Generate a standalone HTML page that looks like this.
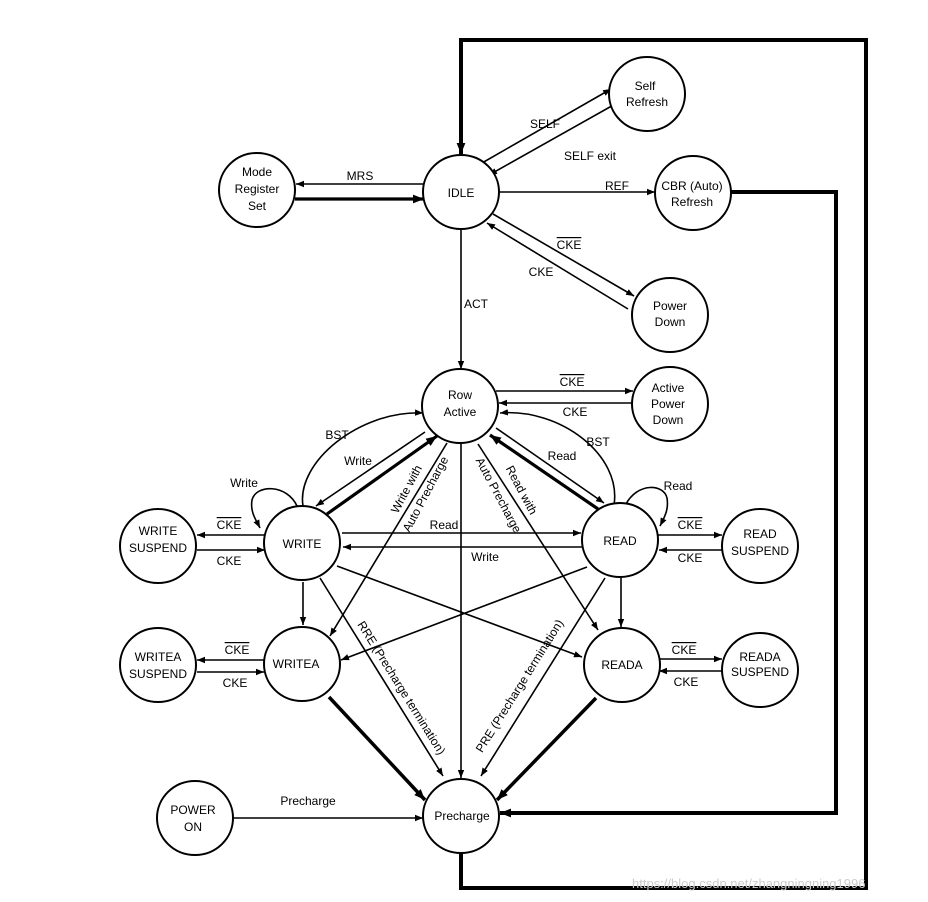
<!DOCTYPE html>
<html><head><meta charset="utf-8"><style>
html,body{margin:0;padding:0;background:#fff;}
svg{display:block;font-family:"Liberation Sans",Arial,sans-serif;font-size:12px;}
</style></head><body>
<svg width="928" height="902" viewBox="0 0 928 902" xmlns="http://www.w3.org/2000/svg">
<defs>
<marker id="a" viewBox="0 0 10 10" refX="10" refY="5" markerWidth="8" markerHeight="8" orient="auto" markerUnits="userSpaceOnUse"><path d="M0,1 L10,5 L0,9 Z" fill="#000"/></marker>
<marker id="b" viewBox="0 0 10 10" refX="10" refY="5" markerWidth="11" markerHeight="11" orient="auto" markerUnits="userSpaceOnUse"><path d="M0,1 L10,5 L0,9 Z" fill="#000"/></marker>
</defs>
<g fill="none" stroke="#000" stroke-width="1.6">
<polyline points="461,853 461,888 866,888 866,40 461,40 461,154" stroke-width="4" marker-end="url(#b)"/>
<polyline points="731,192 836,192 836,813 500,813" stroke-width="4" marker-end="url(#b)"/>
<line x1="482" y1="163" x2="611" y2="89" marker-end="url(#a)"/>
<line x1="617" y1="103" x2="489" y2="175" marker-end="url(#a)"/>
<line x1="424" y1="184" x2="296" y2="184" marker-end="url(#a)"/>
<line x1="295" y1="199" x2="424" y2="199" stroke-width="3.2" marker-end="url(#b)"/>
<line x1="499" y1="192" x2="655" y2="192" marker-end="url(#a)"/>
<line x1="493" y1="214" x2="634" y2="296" marker-end="url(#a)"/>
<line x1="628" y1="309" x2="487" y2="223" marker-end="url(#a)"/>
<line x1="461" y1="230" x2="461" y2="369" marker-end="url(#a)"/>
<line x1="496" y1="391" x2="633" y2="391" marker-end="url(#a)"/>
<line x1="633" y1="403" x2="499" y2="403" marker-end="url(#a)"/>
<line x1="425" y1="432" x2="316" y2="506" marker-end="url(#a)"/>
<line x1="327" y1="514" x2="437" y2="436" stroke-width="3.2" marker-end="url(#b)"/>
<line x1="496" y1="428" x2="604" y2="503" marker-end="url(#a)"/>
<line x1="598" y1="509" x2="490" y2="435" stroke-width="3.2" marker-end="url(#b)"/>
<path d="M303,506 C296,462 360,410 423,413" marker-end="url(#a)"/>
<path d="M614,505 C622,455 560,408 500,413" marker-end="url(#a)"/>
<path d="M297,506 C287,484 256,484 252,500 C250,512 256,520 260,528" marker-end="url(#a)"/>
<path d="M626,504 C638,482 664,484 667,498 C669,510 664,518 660,526" marker-end="url(#a)"/>
<line x1="342" y1="533" x2="581" y2="533" marker-end="url(#a)"/>
<line x1="582" y1="547" x2="343" y2="547" marker-end="url(#a)"/>
<line x1="265" y1="535" x2="197" y2="535" marker-end="url(#a)"/>
<line x1="197" y1="550" x2="265" y2="550" marker-end="url(#a)"/>
<line x1="658" y1="535" x2="722" y2="535" marker-end="url(#a)"/>
<line x1="722" y1="550" x2="659" y2="550" marker-end="url(#a)"/>
<line x1="264" y1="660" x2="197" y2="660" marker-end="url(#a)"/>
<line x1="197" y1="672" x2="264" y2="672" marker-end="url(#a)"/>
<line x1="658" y1="659" x2="722" y2="659" marker-end="url(#a)"/>
<line x1="722" y1="671" x2="659" y2="671" marker-end="url(#a)"/>
<line x1="303" y1="582" x2="303" y2="625" marker-end="url(#a)"/>
<line x1="621" y1="578" x2="621" y2="627" marker-end="url(#a)"/>
<line x1="447" y1="443" x2="330" y2="636" marker-end="url(#a)"/>
<line x1="478" y1="444" x2="598" y2="630" marker-end="url(#a)"/>
<line x1="461" y1="444" x2="461" y2="778" marker-end="url(#a)"/>
<line x1="337" y1="566" x2="582" y2="657" marker-end="url(#a)"/>
<line x1="587" y1="567" x2="341" y2="660" marker-end="url(#a)"/>
<line x1="320" y1="578" x2="443" y2="776" marker-end="url(#a)"/>
<line x1="605" y1="578" x2="481" y2="776" marker-end="url(#a)"/>
<line x1="329" y1="697" x2="425" y2="800" stroke-width="3.5" marker-end="url(#b)"/>
<line x1="596" y1="698" x2="497" y2="800" stroke-width="3.5" marker-end="url(#b)"/>
<line x1="233" y1="818" x2="423" y2="818" marker-end="url(#a)"/>
</g>
<g fill="#fff" stroke="#000" stroke-width="2">
<ellipse cx="461" cy="192" rx="38" ry="37"/>
<ellipse cx="647" cy="94" rx="38" ry="37"/>
<ellipse cx="257" cy="190" rx="38" ry="37"/>
<ellipse cx="693" cy="193" rx="38" ry="37"/>
<ellipse cx="670" cy="315" rx="38" ry="37"/>
<ellipse cx="460" cy="406" rx="38" ry="37"/>
<ellipse cx="670" cy="404" rx="38" ry="37"/>
<ellipse cx="302" cy="543" rx="38" ry="37"/>
<ellipse cx="158" cy="546" rx="38" ry="37"/>
<ellipse cx="620" cy="540" rx="38" ry="37"/>
<ellipse cx="760" cy="546" rx="38" ry="37"/>
<ellipse cx="302" cy="664" rx="38" ry="37"/>
<ellipse cx="158" cy="665" rx="38" ry="37"/>
<ellipse cx="622" cy="665" rx="38" ry="37"/>
<ellipse cx="760" cy="670" rx="38" ry="37"/>
<ellipse cx="195" cy="818" rx="38" ry="37"/>
<ellipse cx="461" cy="816" rx="38" ry="37"/>
</g>
<g text-anchor="middle" fill="#000">
<text x="461" y="197">IDLE</text>
<text x="645" y="90">Self</text><text x="647" y="106">Refresh</text>
<text x="257" y="176">Mode</text><text x="257" y="193">Register</text><text x="257" y="210">Set</text>
<text x="692" y="190">CBR (Auto)</text><text x="692" y="206">Refresh</text>
<text x="670" y="310">Power</text><text x="670" y="326">Down</text>
<text x="460" y="399">Row</text><text x="460" y="416">Active</text>
<text x="668" y="392">Active</text><text x="668" y="408">Power</text><text x="668" y="424">Down</text>
<text x="302" y="548">WRITE</text>
<text x="158" y="535">WRITE</text><text x="158" y="552">SUSPEND</text>
<text x="620" y="545">READ</text>
<text x="760" y="538">READ</text><text x="760" y="555">SUSPEND</text>
<text x="296" y="668">WRITEA</text>
<text x="158" y="661">WRITEA</text><text x="158" y="678">SUSPEND</text>
<text x="622" y="669">READA</text>
<text x="760" y="661">READA</text><text x="760" y="676">SUSPEND</text>
<text x="193" y="814">POWER</text><text x="193" y="831">ON</text>
<text x="462" y="820">Precharge</text>
<text x="545" y="128">SELF</text>
<text x="590" y="160">SELF exit</text>
<text x="360" y="180">MRS</text>
<text x="617" y="190">REF</text>
<text x="569" y="249" text-decoration="overline">CKE</text>
<text x="541" y="276">CKE</text>
<text x="476" y="308">ACT</text>
<text x="572" y="386" text-decoration="overline">CKE</text>
<text x="575" y="416">CKE</text>
<text x="337" y="439">BST</text>
<text x="598" y="446">BST</text>
<text x="358" y="465">Write</text>
<text x="562" y="460">Read</text>
<text x="244" y="487">Write</text>
<text x="678" y="490">Read</text>
<text x="444" y="529">Read</text>
<text x="485" y="561">Write</text>
<text x="229" y="529" text-decoration="overline">CKE</text>
<text x="229" y="565">CKE</text>
<text x="690" y="529" text-decoration="overline">CKE</text>
<text x="690" y="562">CKE</text>
<text x="237" y="654" text-decoration="overline">CKE</text>
<text x="235" y="687">CKE</text>
<text x="684" y="654" text-decoration="overline">CKE</text>
<text x="686" y="686">CKE</text>
<text x="308" y="805">Precharge</text>
<text transform="translate(410,491) rotate(-62)">Write with</text>
<text transform="translate(429,496) rotate(-62)">Auto Precharge</text>
<text transform="translate(518,492) rotate(62)">Read with</text>
<text transform="translate(495,497) rotate(62)">Auto Precharge</text>
<text transform="translate(398,690) rotate(58)">RRE (Precharge termination)</text>
<text transform="translate(523,688) rotate(-58)">PRE (Precharge termination)</text>
</g>
<text x="632" y="888" fill="#ccc" font-size="13">https://blog.csdn.net/zhangningning1996</text>
</svg>
</body></html>
